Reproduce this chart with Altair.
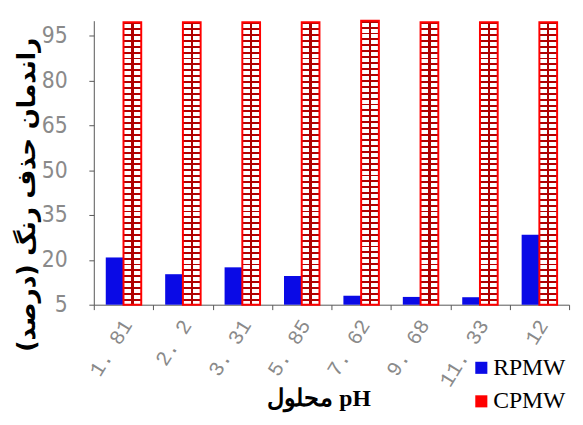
import altair as alt
import pandas as pd

ph = ["1.81", "2.2", "3.31", "5.85", "7.62", "9.68", "11.33", "12"]
rpmw = [20.8, 15.2, 17.5, 14.6, 8.0, 7.6, 7.5, 28.4]
cpmw = [99.5, 99.5, 99.5, 99.5, 100.0, 99.5, 99.5, 99.5]
series = ["RPMW", "CPMW"]
colors = ["#0a0ae6", "#ff0000"]

rows = []
for p, r, c in zip(ph, rpmw, cpmw):
    rows.append({"ph": p, "series": "RPMW", "value": r})
    rows.append({"ph": p, "series": "CPMW", "value": c})
df = pd.DataFrame(rows)

# hatch-like fills (style only)
n_h = 48
h_stops = []
for i in range(n_h):
    a = i / n_h
    b = (i + 0.33) / n_h
    e = (i + 1) / n_h
    h_stops += [
        {"offset": a, "color": "#b00000"},
        {"offset": b, "color": "#b00000"},
        {"offset": b, "color": "#ffffff"},
        {"offset": e, "color": "#ffffff"},
    ]
h_grad = {"gradient": "linear", "x1": 0, "y1": 0, "x2": 0, "y2": 1, "stops": h_stops}
clear = "rgba(255,255,255,0)"
v_stops = [
    {"offset": 0.0, "color": clear},
    {"offset": 0.43, "color": clear},
    {"offset": 0.43, "color": "#b00000"},
    {"offset": 0.57, "color": "#b00000"},
    {"offset": 0.57, "color": clear},
    {"offset": 1.0, "color": clear},
]
v_grad = {"gradient": "linear", "x1": 0, "y1": 0, "x2": 1, "y2": 0, "stops": v_stops}

x_enc = alt.X(
    "ph:N",
    sort=ph,
    scale=alt.Scale(paddingInner=0, paddingOuter=0),
    axis=alt.Axis(
        title="محلول pH",
        titleFont="Liberation Serif",
        titleFontWeight="bold",
        titleFontSize=24,
        titleColor="#000000",
        titleX=228,
        titleY=95,
        titleAlign="center",
        titleBaseline="middle",
        labelExpr="replace(datum.label, '.', '. ')",
        labelFont="Liberation Mono",
        labelFontSize=21,
        labelColor="#8a8a8a",
        labelAngle=-58,
        labelAlign="right",
        labelBaseline="middle",
        labelPadding=12,
        labelOffset=4,
        tickBand="extent",
        tickSize=5,
        tickColor="#555555",
        domainColor="#555555",
        grid=False,
    ),
)
xo_enc = alt.XOffset(
    "series:N",
    scale=alt.Scale(domain=series, paddingInner=0, paddingOuter=0.675),
)
y_enc = alt.Y(
    "value:Q",
    scale=alt.Scale(domain=[5, 100], zero=False, nice=False),
    axis=alt.Axis(
        values=[5, 20, 35, 50, 65, 80, 95],
        title="راندمان حذف رنگ (درصد)",
        titleFont="DejaVu Sans",
        titleFontWeight="bold",
        titleFontSize=25,
        titleColor="#000000",
        titleAngle=270,
        titleX=-68,
        titleY=176,
        titleAlign="center",
        titleBaseline="middle",
        labelFont="Liberation Sans Narrow, DejaVu Sans Condensed, sans-serif",
        labelFontSize=23,
        labelColor="#8a8a8a",
        labelPadding=22,
        tickSize=5,
        tickColor="#555555",
        domainColor="#555555",
        grid=False,
    ),
)

base = alt.Chart(df)
bars = base.mark_bar(strokeWidth=0).encode(
    x=x_enc,
    xOffset=xo_enc,
    y=y_enc,
    y2=alt.datum(5),
    color=alt.Color(
        "series:N",
        scale=alt.Scale(domain=series, range=colors),
        legend=alt.Legend(
            title=None,
            orient="none",
            legendX=381,
            legendY=340,
            symbolType="square",
            symbolSize=150,
            symbolStrokeWidth=0,
            labelFont="Liberation Serif",
            labelFontSize=24,
            labelColor="#000000",
            rowPadding=10,
            labelOffset=0,
        ),
    ),
)
hatch_h = base.transform_filter(alt.datum.series == "CPMW").mark_bar(fill=h_grad).encode(
    x=x_enc, xOffset=xo_enc, y=y_enc, y2=alt.datum(5)
)
hatch_v = base.transform_filter(alt.datum.series == "CPMW").mark_bar(
    fill=v_grad, stroke="#ff0000", strokeWidth=2
).encode(x=x_enc, xOffset=xo_enc, y=y_enc, y2=alt.datum(5))

chart = (
    alt.layer(bars, hatch_h, hatch_v)
    .properties(
        width=482,
        height=288,
        autosize=alt.AutoSizeParams(type="none"),
        padding={"left": 87, "top": 10, "right": 6, "bottom": 111},
        background="#ffffff",
    )
    .configure_view(stroke=None)
)

chart.save("out.html", embed_options={"renderer": "svg", "actions": False})
